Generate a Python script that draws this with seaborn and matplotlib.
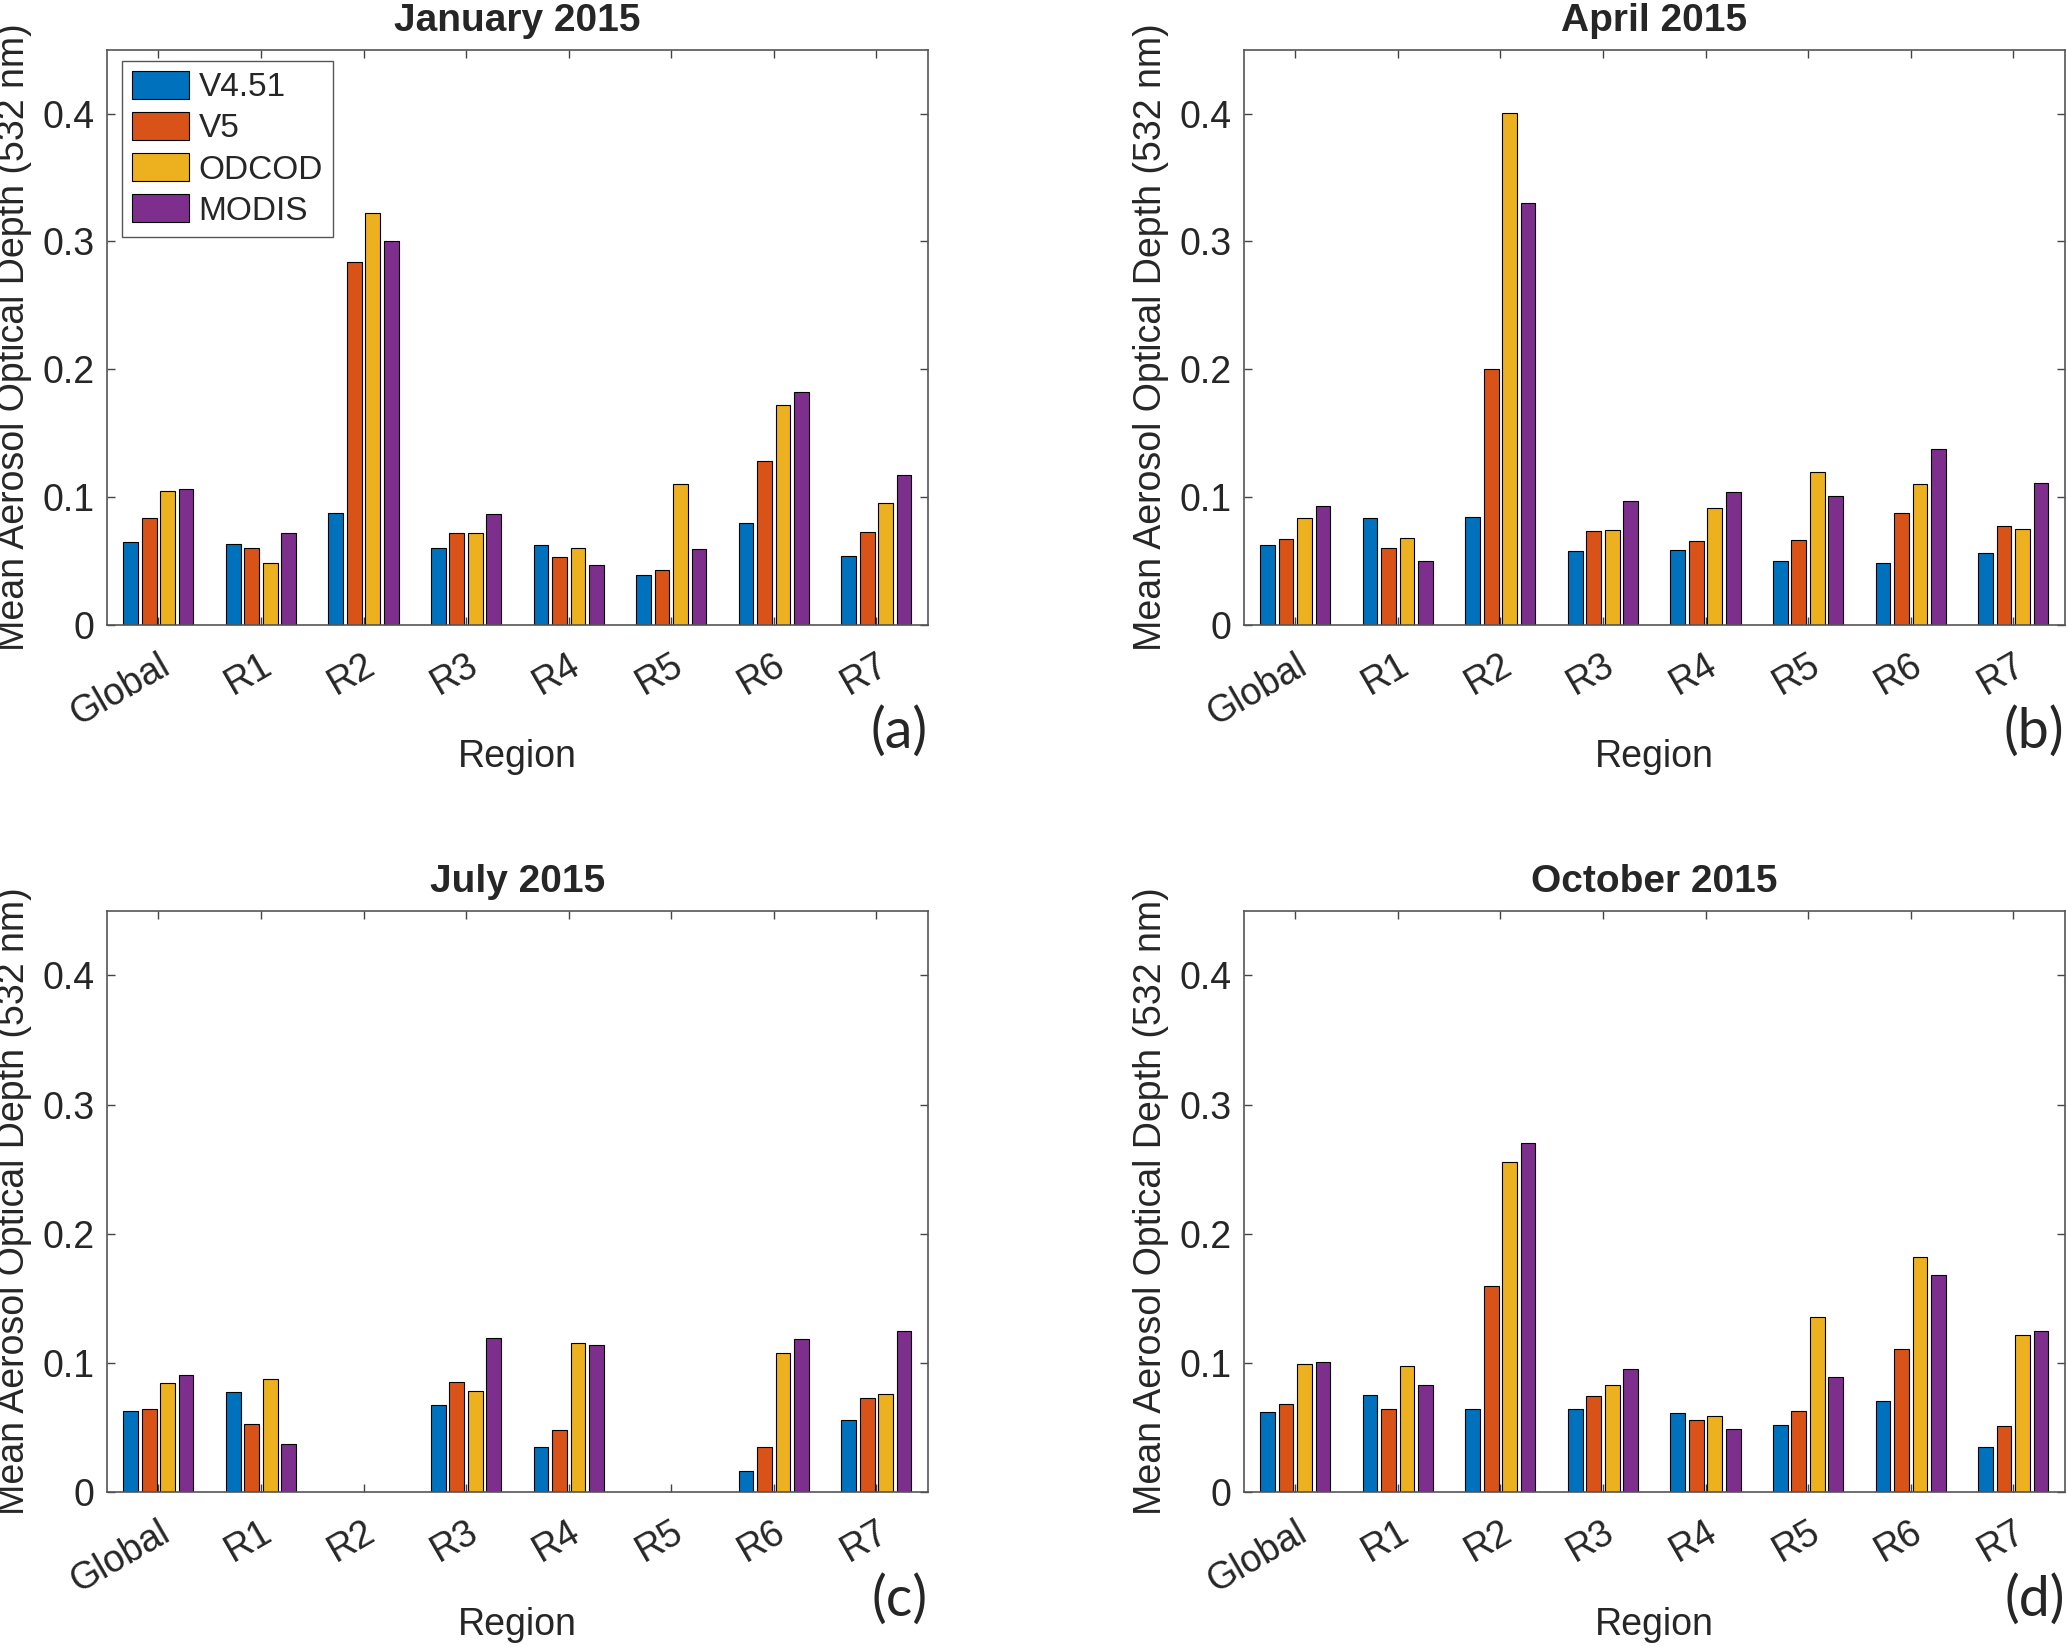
import numpy as np
import pandas as pd
import matplotlib
matplotlib.use("Agg")
import matplotlib.pyplot as plt
import seaborn as sns

# Regionen und Datensätze
regions = ["Global", "R1", "R2", "R3", "R4", "R5", "R6", "R7"]
datasets = ["V4.51", "V5", "ODCOD", "MODIS"]
colors = ["#0072BD", "#D95319", "#EDB120", "#7E2F8E"]

months = ["January 2015", "April 2015", "July 2015", "October 2015"]
panel_tags = ["(a)", "(b)", "(c)", "(d)"]

# Mittlere AOD (532 nm)
jan_v451 = [0.065, 0.0635, 0.0875, 0.060, 0.0623, 0.039, 0.0798, 0.0541]
jan_v5 = [0.0838, 0.060, 0.2836, 0.0716, 0.0533, 0.0427, 0.1286, 0.0724]
jan_odcod = [0.105, 0.0484, 0.322, 0.0716, 0.0606, 0.110, 0.172, 0.0956]
jan_modis = [0.106, 0.072, 0.3007, 0.0867, 0.0468, 0.0594, 0.182, 0.1176]

apr_v451 = [0.0626, 0.0837, 0.0846, 0.0581, 0.059, 0.050, 0.0488, 0.0561]
apr_v5 = [0.0675, 0.0606, 0.2004, 0.0732, 0.0659, 0.0667, 0.0874, 0.0772]
apr_odcod = [0.0837, 0.0683, 0.4008, 0.0744, 0.0919, 0.1195, 0.1106, 0.0752]
apr_modis = [0.0931, 0.050, 0.330, 0.0972, 0.104, 0.1008, 0.1374, 0.1114]

jul_v451 = [0.063, 0.0776, np.nan, 0.0675, 0.0346, np.nan, 0.0159, 0.0557]
jul_v5 = [0.0646, 0.0528, np.nan, 0.085, 0.0476, np.nan, 0.035, 0.0728]
jul_odcod = [0.0846, 0.0878, np.nan, 0.078, 0.1154, np.nan, 0.1077, 0.076]
jul_modis = [0.0907, 0.0374, np.nan, 0.119, 0.1138, np.nan, 0.1183, 0.1244]

oct_v451 = [0.0618, 0.0752, 0.0646, 0.0646, 0.0614, 0.052, 0.0707, 0.035]
oct_v5 = [0.0679, 0.0646, 0.1593, 0.074, 0.056, 0.063, 0.111, 0.0508]
oct_odcod = [0.0988, 0.0972, 0.2557, 0.083, 0.059, 0.1354, 0.1817, 0.1215]
oct_modis = [0.1008, 0.0825, 0.270, 0.0955, 0.049, 0.0894, 0.168, 0.125]

values = {
    "January 2015": [jan_v451, jan_v5, jan_odcod, jan_modis],
    "April 2015": [apr_v451, apr_v5, apr_odcod, apr_modis],
    "July 2015": [jul_v451, jul_v5, jul_odcod, jul_modis],
    "October 2015": [oct_v451, oct_v5, oct_odcod, oct_modis],
}

rows = []
for m in months:
    for ds, vals in zip(datasets, values[m]):
        for r, v in zip(regions, vals):
            rows.append({"month": m, "region": r, "dataset": ds, "aod": v})
df = pd.DataFrame(rows).dropna()

sns.set_theme(style="ticks")
plt.rcParams["font.family"] = ["Liberation Sans", "DejaVu Sans"]

fig = plt.figure(figsize=(20.67, 16.46), dpi=100)
positions = [
    [0.0518, 0.6203, 0.397, 0.3495],
    [0.6018, 0.6203, 0.397, 0.3495],
    [0.0518, 0.0936, 0.397, 0.353],
    [0.6018, 0.0936, 0.397, 0.353],
]

for i, m in enumerate(months):
    ax = fig.add_axes(positions[i])
    sub = df[df["month"] == m]
    sns.barplot(data=sub, x="region", y="aod", hue="dataset",
                order=regions, hue_order=datasets, palette=colors,
                saturation=1, width=0.72, gap=0.2, errorbar=None,
                edgecolor="black", linewidth=0.8, ax=ax, legend=(i == 0))
    ax.set_xlim(-0.5, 7.5)
    ax.set_ylim(0, 0.45)
    ax.set_yticks([0, 0.1, 0.2, 0.3, 0.4])
    ax.set_yticklabels(["0", "0.1", "0.2", "0.3", "0.4"])
    ax.tick_params(direction="in", top=True, right=True, length=6,
                   width=1, color="#444444", labelsize=27, labelcolor="#262626")
    ax.tick_params(axis="x", pad=16)
    ax.tick_params(axis="y", pad=9)
    for lab in ax.get_xticklabels():
        lab.set_rotation(30)
        lab.set_ha("right")
        lab.set_va("top")
        lab.set_rotation_mode("anchor")
    for s in ax.spines.values():
        s.set_color("#555555")
        s.set_linewidth(1.2)

    ax.set_xlabel("Region", fontsize=27, color="#262626")
    ax.xaxis.set_label_coords(0.5, -0.229)
    ax.xaxis.label.set_va("center")
    ax.set_ylabel("Mean Aerosol Optical Depth (532 nm)", fontsize=27, color="#262626")
    ax.yaxis.set_label_coords(-0.091, 0.5)
    ax.set_title(m, fontsize=28, fontweight="bold", y=1.018, va="baseline")

    ax.text(1.0, -0.186, panel_tags[i], transform=ax.transAxes,
            ha="right", va="center", fontsize=40, family=["Lato", "DejaVu Sans"])

    if i == 0:
        handles, labels = ax.get_legend_handles_labels()
        ax.legend(handles, labels, loc="upper left", bbox_to_anchor=(0.018, 0.981),
                  borderaxespad=0, fontsize=24, handlelength=1.7, handleheight=0.94,
                  labelspacing=0.25, handletextpad=0.3, borderpad=0.3,
                  fancybox=False, framealpha=1, edgecolor="#555555")

fig.savefig("out.png", dpi=100)
